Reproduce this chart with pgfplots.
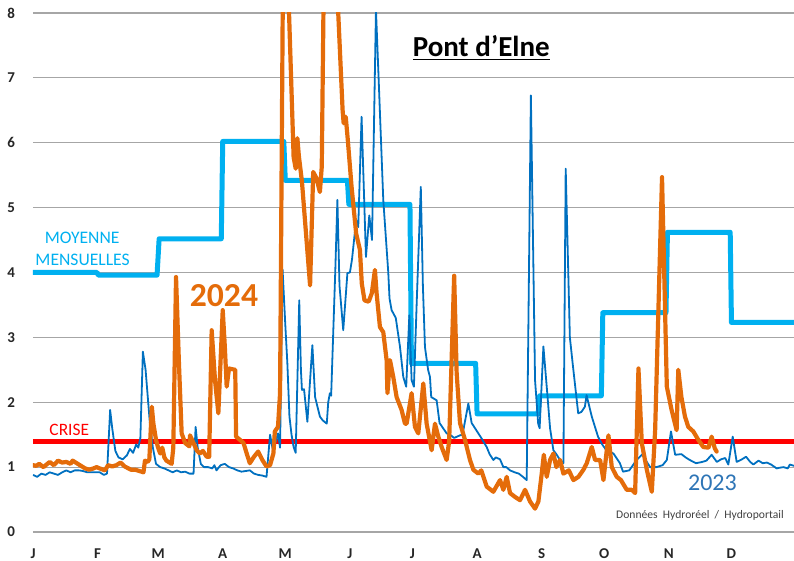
\documentclass[border=0pt]{standalone}
\usepackage{pgfplots}
\pgfplotsset{compat=1.18}
\usepackage{fontspec}
\setmainfont{Carlito}
\definecolor{orng}{HTML}{E46C0A}
\definecolor{blu}{HTML}{0070C0}
\definecolor{lblu}{HTML}{00B0F0}
\definecolor{txtblu}{HTML}{2E75B6}
\begin{document}
\begin{tikzpicture}
\useasboundingbox (-16.5pt,-14.5pt) rectangle (380.5pt,266pt);
\begin{axis}[
  at={(0,0)}, anchor=south west,
  scale only axis, width=380.5pt, height=259.5pt,
  xmin=0, xmax=365, ymin=0, ymax=8,
  axis line style={draw=none},
  major tick length=0pt,
  ytick={0,1,2,3,4,5,6,7,8},
  ymajorgrids,
  grid style={gray!70, line width=0.6pt},
  xtick={0,31,60,91,121,152,182,213,244,274,305,335},
  xticklabels={J,F,M,A,M,J,J,A,S,O,N,D},
  /pgf/number format/assume math mode=true,
  ticklabel style={font=\bfseries\fontsize{7.5}{9}\selectfont, text=black!85},
  xticklabel style={yshift=-5pt},
  yticklabel style={xshift=-5.5pt},
  clip=true,
]
% crisis line
\addplot[color=red, line width=2.5pt] coordinates {(0,1.4)(365,1.4)};
% monthly means
\addplot[color=lblu, line width=2.5pt, line join=round] coordinates {
(0,4.0)(30.7,4.0)(31.3,3.96)(59.5,3.96)(60.5,4.52)(90.3,4.52)(91,6.02)(120.3,6.02)(121,5.42)(150.8,5.42)(151.5,5.05)(180.8,5.05)(181.5,2.6)(212.3,2.6)(213,1.82)(242.3,1.82)(243,2.1)(272.6,2.1)(273.3,3.38)(303.6,3.38)(304.3,4.62)(334.4,4.62)(335,3.23)(365,3.23)};
% 2023
\addplot[color=blu, line width=0.9pt, line join=round] coordinates {
(0,0.88)(2,0.85)(4,0.9)(6,0.88)(8,0.92)(10,0.9)(12,0.88)(14,0.92)(16,0.95)(18,0.92)(20,0.95)(22,0.95)(24,0.94)(26,0.92)(28,0.92)(30,0.92)(32,0.92)(34,0.88)(35.5,0.9)(37,1.88)(38,1.6)(39.5,1.25)(41,1.15)(43,1.12)(45,1.18)(46.5,1.28)(48,1.22)(49.5,1.35)(50.5,1.3)(51.5,1.45)(52.7,2.78)(54,2.5)(55,2.1)(56,1.7)(57.5,1.3)(59,1.05)(61,1.0)(63,0.98)(65,0.95)(67,0.92)(69,0.95)(71,0.92)(73,0.93)(75,0.9)(77,0.9)(78,1.62)(79,1.3)(80.5,1.05)(82,1.0)(84,1.0)(86,0.98)(87,1.03)(88,0.95)(90,1.03)(92,1.05)(94,1.0)(96,0.98)(98,0.95)(100,0.93)(102,0.94)(104,0.95)(106,0.9)(108,0.88)(110,0.87)(112,0.85)(113.7,1.5)(115,1.27)(116.5,1.4)(117.5,1.52)(118.5,1.3)(119.7,4.05)(121,3.2)(122,2.6)(123,1.78)(124,1.5)(125,1.31)(126,1.22)(127.7,3.57)(128.5,2.5)(129,2.19)(130,2.2)(131.6,1.7)(134,2.88)(135.3,2.08)(137.6,1.78)(139,1.72)(140.9,1.67)(141.6,2.0)(142.4,2.14)(143,2.1)(145,4.04)(146,5.12)(147,3.8)(148.8,3.11)(150.8,3.99)(152,4.0)(153,4.2)(155,4.81)(156,4.7)(157.6,6.4)(159.7,4.24)(161.3,4.88)(162.6,4.5)(164.5,8.05)(166,6.8)(168,5.12)(170.4,4.0)(171,3.6)(172,3.42)(174,3.3)(176,2.86)(177.6,2.39)(179,2.24)(180.5,3.34)(181.6,2.34)(182.7,2.24)(184,3.5)(186,5.32)(187,3.8)(188,2.85)(189.5,2.5)(190.4,2.39)(191,2.08)(193.6,2.03)(195,1.68)(198.4,1.52)(200,1.5)(202,1.45)(204.8,1.49)(206,1.5)(208.8,1.98)(210.4,1.68)(212,1.6)(213.6,1.52)(215,1.45)(217.6,1.31)(219,1.2)(220.8,1.11)(222,1.15)(224,1.12)(225.6,1.0)(227,1.0)(228.8,0.95)(231,0.92)(233,0.9)(235,0.85)(236.8,0.8)(238.8,6.73)(240.8,2.34)(242.3,1.67)(243,1.6)(244.8,2.86)(246.4,2.24)(248,1.6)(249.6,1.26)(251,1.2)(252.8,1.11)(254.4,1.06)(255.5,5.6)(257.5,3.0)(259,2.55)(261.5,1.83)(263,1.85)(264.7,1.93)(265.5,2.11)(268,1.78)(271,1.47)(273,1.35)(275,1.26)(278.4,1.21)(281.5,1.06)(283,0.93)(286,0.95)(289.5,1.11)(292.7,1.21)(294,1.1)(296,1.0)(299,1.0)(302,1.03)(304,1.11)(306,1.55)(308,1.19)(311,1.2)(313,1.15)(315,1.11)(318,1.06)(321,1.08)(323,1.1)(325.5,1.19)(328,1.08)(330,1.12)(332,1.14)(333.5,1.04)(335.6,1.47)(337.5,1.08)(340,1.12)(342,1.16)(344,1.08)(345.5,1.04)(348,1.1)(350,1.06)(352,1.07)(354,1.04)(356.7,0.98)(358,0.99)(360,1.0)(362,0.98)(363,1.04)(365,1.02)};
% 2024
\addplot[color=orng, line width=2.1pt, line join=round, line cap=round] coordinates {
(0,1.03)(1.5,1.02)(3,1.05)(5,1.0)(6.5,1.04)(8,1.08)(10,1.03)(12,1.1)(14,1.07)(16,1.08)(18,1.05)(19,1.1)(21,1.06)(22.5,1.03)(25,0.98)(27,0.96)(29,0.98)(30.5,1.0)(32,0.98)(34.5,0.95)(36,1.03)(38,1.01)(40,1.03)(42,1.07)(44,1.01)(47,0.96)(49,0.96)(51,0.94)(53,0.92)(53.7,1.1)(55,1.08)(55.8,1.12)(57,1.93)(57.7,1.68)(59,1.42)(60,1.3)(61,1.21)(62,1.3)(63,1.15)(64,1.1)(66.5,1.05)(67.3,1.3)(68.6,3.93)(70,2.6)(71.3,1.52)(73,1.37)(75,1.32)(75.3,1.49)(77,1.37)(78.5,1.26)(80,1.21)(81.5,1.25)(83.3,1.16)(84.5,1.16)(85.7,3.11)(87.3,2.34)(88.9,1.83)(91,3.42)(92,2.86)(92.9,2.24)(94,2.52)(97,2.5)(97.4,1.47)(99.3,1.42)(101,1.37)(102.5,1.21)(104,1.06)(106,1.16)(108,1.24)(110,1.11)(112,1.01)(113.7,1.03)(115.3,1.21)(116,1.55)(117.5,1.62)(118.5,2.14)(120.3,10.5)(123,7.8)(125,5.78)(126,5.6)(126.8,6.07)(127.5,5.8)(129,5.4)(132.9,3.8)(134.4,5.55)(136,5.45)(137.6,5.24)(138.5,5.63)(139.8,9.5)(141.5,11)(146.4,8)(148.5,6.5)(149,6.3)(150,6.4)(151,6.04)(152.8,5.32)(155,4.6)(156.8,4.35)(157.7,3.83)(159,3.57)(161,3.55)(162.5,3.68)(164,4.04)(164.8,3.68)(166.4,3.16)(168,3.08)(169.6,2.65)(170,2.14)(171.2,2.65)(172.8,2.39)(174.4,2.08)(176.8,1.88)(178.4,1.67)(179.2,1.67)(181.6,2.14)(183.2,1.62)(184.8,1.52)(187.2,2.29)(188.8,1.67)(191.2,1.26)(192.8,1.67)(194.4,1.47)(196,1.31)(198.4,1.11)(199.6,1.4)(202,3.95)(203.2,2.45)(204.8,1.68)(207.2,1.42)(209.6,1.11)(211.2,0.96)(213.6,0.9)(215,0.95)(217.6,0.7)(220.8,0.62)(224,0.8)(225.6,0.65)(227.2,0.85)(228.8,0.6)(231.2,0.54)(233.6,0.49)(236,0.65)(238.4,0.47)(240.8,0.36)(242.4,0.47)(244,0.9)(245,1.19)(246.4,0.85)(248,1.11)(249.6,1.21)(251,1.0)(252.8,1.11)(254.4,0.9)(257,0.95)(259.2,0.8)(261.6,0.85)(264,0.96)(265.6,1.06)(268,1.31)(269.6,1.11)(272,1.11)(273.6,0.8)(276,1.49)(277.6,1.0)(280,0.85)(282,0.8)(284.8,0.65)(287.2,0.65)(288.8,0.6)(290.4,2.52)(292,1.37)(294.4,0.96)(296.8,0.62)(298.4,1.57)(301.7,5.47)(304,2.24)(306.3,1.88)(308.7,1.57)(309.5,2.5)(311,2.08)(312.7,1.78)(314.3,1.62)(316.7,1.55)(319.1,1.42)(321.5,1.31)(324,1.3)(325.5,1.47)(327,1.29)(327.9,1.24)};
% texts
\node[anchor=base, font=\bfseries\fontsize{14.5}{16}\selectfont] at (axis cs:215,7.33) {\underline{Pont d’Elne}};
\node[anchor=base, text=lblu, font=\fontsize{8.8}{10}\selectfont] at (axis cs:23.6,4.45) {MOYENNE};
\node[anchor=base, text=lblu, font=\fontsize{8.8}{10}\selectfont] at (axis cs:23.8,4.11) {MENSUELLES};
\node[anchor=base, text=orng, font=\bfseries\fontsize{16.8}{18}\selectfont] at (axis cs:91.6,3.47) {2024};
\node[anchor=base, text=red, font=\fontsize{8.7}{10}\selectfont] at (axis cs:17.4,1.48) {CRISE};
\node[anchor=base, text=txtblu, font=\fontsize{12}{14}\selectfont] at (axis cs:325.9,0.64) {2023};
\node[anchor=base, text=black!75, font=\fontsize{5.8}{7}\selectfont] at (axis cs:319.9,0.21) {Données\ \ Hydroréel\ \ /\ \ Hydroportail};
\end{axis}
\end{tikzpicture}
\end{document}
